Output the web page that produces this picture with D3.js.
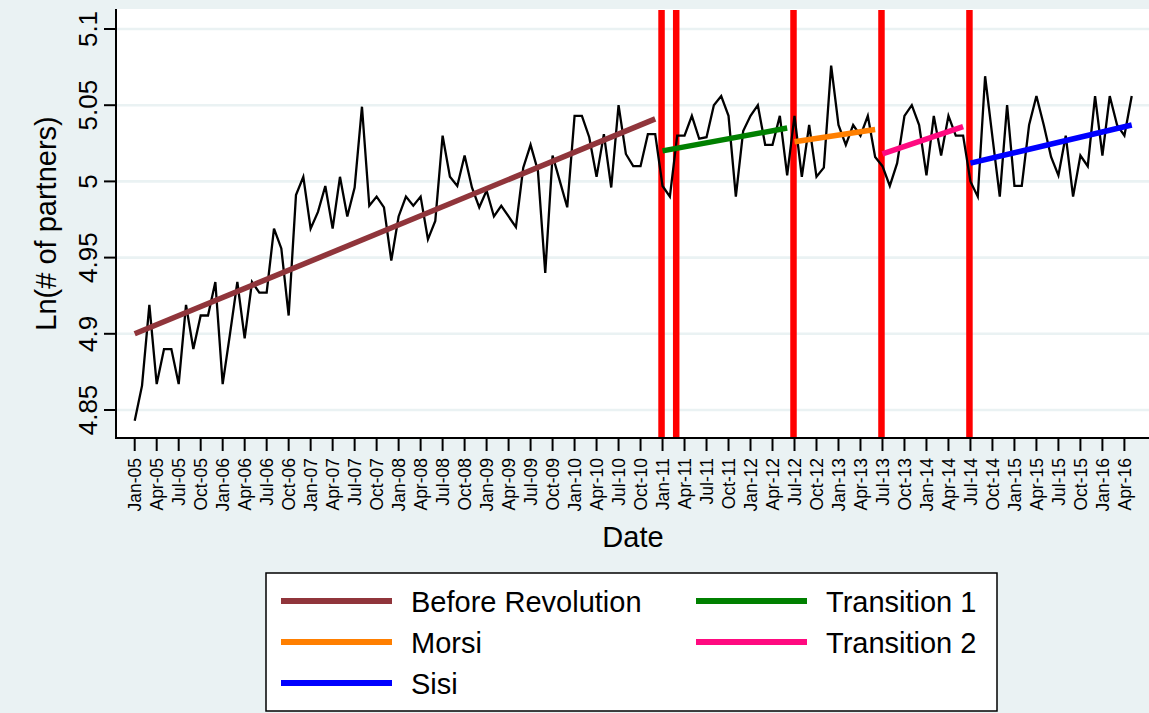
<!DOCTYPE html>
<html>
<head>
<meta charset="utf-8">
<script src="https://cdn.jsdelivr.net/npm/d3@7"></script>
<style>
  html, body { margin: 0; padding: 0; background: #EAF2F3; }
  svg { display: block; font-family: "Liberation Sans", Arial, sans-serif; }
</style>
</head>
<body>
<svg id="chart" width="1149" height="713"></svg>
<script>
// Monthly series, Jan-2005 .. May-2016 (index 0 = Jan-05)
const lnPartners = [
  4.843, 4.866, 4.919, 4.867, 4.890, 4.890, 4.867, 4.919, 4.890, 4.912, 4.912, 4.934,
  4.867, 4.900, 4.934, 4.897, 4.934, 4.927, 4.927, 4.969, 4.956, 4.912, 4.991, 5.003,
  4.969, 4.980, 4.997, 4.969, 5.003, 4.977, 4.996, 5.049, 4.984, 4.990, 4.983, 4.948,
  4.977, 4.990, 4.984, 4.990, 4.962, 4.974, 5.030, 5.003, 4.997, 5.017, 4.996, 4.983,
  4.994, 4.977, 4.984, 4.977, 4.970, 5.009, 5.024, 5.007, 4.940, 5.017, 5.000, 4.983,
  5.043, 5.043, 5.029, 5.003, 5.031, 4.996, 5.050, 5.018, 5.010, 5.010, 5.031, 5.031,
  4.997, 4.990, 5.030, 5.030, 5.043, 5.028, 5.029, 5.050, 5.056, 5.043, 4.990, 5.033,
  5.043, 5.050, 5.024, 5.024, 5.043, 5.004, 5.043, 5.003, 5.037, 5.003, 5.009, 5.076,
  5.037, 5.024, 5.037, 5.030, 5.043, 5.016, 5.010, 4.997, 5.012, 5.043, 5.050, 5.037,
  5.004, 5.043, 5.017, 5.043, 5.030, 5.030, 5.000, 4.990, 5.069, 5.029, 4.990, 5.050,
  4.997, 4.997, 5.037, 5.056, 5.037, 5.016, 5.004, 5.030, 4.990, 5.017, 5.010, 5.056,
  5.017, 5.056, 5.037, 5.030, 5.056
];

// Fitted trend per period: first/last month index and fitted values at those months
const periodNames  = ["Before Revolution", "Transition 1", "Morsi", "Transition 2", "Sisi"];
const periodStart  = [0, 72, 90, 102, 114];
const periodEnd    = [71, 89, 101, 113, 136];
const periodFitLo  = [4.900, 5.020, 5.026, 5.018, 5.012];
const periodFitHi  = [5.041, 5.035, 5.034, 5.036, 5.037];
const periodColors = ["#90353B", "#008000", "#FF7F00", "#FF0A80", "#0000FF"];

// Event markers (month index): Jan-11, Mar-11, Jul-12, Jul-13, Jul-14
const eventMonths = [72, 74, 90, 102, 114];

// Y axis ticks
const yTicks = [4.85, 4.9, 4.95, 5, 5.05, 5.1];

// X axis tick labels, every third month from Jan-05
const xTickLabels = [
  "Jan-05","Apr-05","Jul-05","Oct-05","Jan-06","Apr-06","Jul-06","Oct-06",
  "Jan-07","Apr-07","Jul-07","Oct-07","Jan-08","Apr-08","Jul-08","Oct-08",
  "Jan-09","Apr-09","Jul-09","Oct-09","Jan-10","Apr-10","Jul-10","Oct-10",
  "Jan-11","Apr-11","Jul-11","Oct-11","Jan-12","Apr-12","Jul-12","Oct-12",
  "Jan-13","Apr-13","Jul-13","Oct-13","Jan-14","Apr-14","Jul-14","Oct-14",
  "Jan-15","Apr-15","Jul-15","Oct-15","Jan-16","Apr-16"
];

const svg = d3.select("#chart");
const W = 1149, H = 713;
const plot = { left: 116, right: 1152, top: 9, bottom: 438 };

const x = d3.scaleLinear().domain([0, 135]).range([134.7, 1124.4]);
const y = d3.scaleLinear().domain([4.85, 5.1]).range([410, 29]);

// outer background
svg.append("rect").attr("width", W).attr("height", H).attr("fill", "#EAF2F3");

// plot region
svg.append("rect")
  .attr("x", plot.left).attr("y", plot.top)
  .attr("width", plot.right - plot.left).attr("height", plot.bottom - plot.top)
  .attr("fill", "#FFFFFF");

// horizontal grid
svg.append("g").selectAll("line").data(yTicks).join("line")
  .attr("x1", plot.left + 1).attr("x2", plot.right)
  .attr("y1", d => y(d)).attr("y2", d => y(d))
  .attr("stroke", "#EAF2F3").attr("stroke-width", 2.6);

// event markers
svg.append("g").selectAll("line").data(eventMonths).join("line")
  .attr("x1", d => x(d) - 1).attr("x2", d => x(d) - 1)
  .attr("y1", plot.top + 1).attr("y2", plot.bottom)
  .attr("stroke", "#FF0000").attr("stroke-width", 6.5);

// observed series
const line = d3.line().x((d, i) => x(i)).y(d => y(d));
svg.append("path")
  .datum(lnPartners)
  .attr("d", line)
  .attr("fill", "none")
  .attr("stroke", "#000000")
  .attr("stroke-width", 2.3)
  .attr("stroke-linejoin", "miter");

// fitted trend per period
const fits = periodNames.map((name, i) => ({
  name, color: periodColors[i],
  pts: [[periodStart[i], periodFitLo[i]], [periodEnd[i], periodFitHi[i]]]
}));
svg.append("g").selectAll("line").data(fits).join("line")
  .attr("x1", d => x(d.pts[0][0])).attr("y1", d => y(d.pts[0][1]))
  .attr("x2", d => x(d.pts[1][0])).attr("y2", d => y(d.pts[1][1]))
  .attr("stroke", d => d.color).attr("stroke-width", 5.5);

// y axis
const yAxisG = svg.append("g").attr("transform", `translate(${plot.left},0)`);
yAxisG.append("line")
  .attr("x1", 0).attr("x2", 0).attr("y1", plot.top).attr("y2", plot.bottom + 1)
  .attr("stroke", "#000").attr("stroke-width", 2);
yAxisG.selectAll("line.tick").data(yTicks).join("line").attr("class", "tick")
  .attr("x1", -12).attr("x2", 0)
  .attr("y1", d => y(d)).attr("y2", d => y(d))
  .attr("stroke", "#000").attr("stroke-width", 2);
yAxisG.selectAll("text").data(yTicks).join("text")
  .attr("transform", d => `translate(-19.5,${y(d)}) rotate(-90)`)
  .attr("text-anchor", "middle")
  .attr("font-size", 26)
  .attr("fill", "#000")
  .text(d => d3.format("")(d));

svg.append("text")
  .attr("transform", `translate(56,${(plot.top + plot.bottom) / 2}) rotate(-90)`)
  .attr("text-anchor", "middle")
  .attr("font-size", 29)
  .attr("fill", "#000")
  .text("Ln(# of partners)");

// x axis
const xAxisG = svg.append("g").attr("transform", `translate(0,${plot.bottom})`);
xAxisG.append("line")
  .attr("x1", plot.left - 1).attr("x2", plot.right).attr("y1", 0).attr("y2", 0)
  .attr("stroke", "#000").attr("stroke-width", 2);
xAxisG.selectAll("line.tick").data(xTickLabels).join("line").attr("class", "tick")
  .attr("x1", (d, i) => x(i * 3)).attr("x2", (d, i) => x(i * 3))
  .attr("y1", 0).attr("y2", 13)
  .attr("stroke", "#000").attr("stroke-width", 2);
xAxisG.selectAll("text").data(xTickLabels).join("text")
  .attr("transform", (d, i) => `translate(${x(i * 3)},20) rotate(-90)`)
  .attr("text-anchor", "end")
  .attr("dy", "0.36em")
  .attr("font-size", 17.5)
  .attr("fill", "#000")
  .text(d => d);

svg.append("text")
  .attr("x", 633).attr("y", 547)
  .attr("text-anchor", "middle")
  .attr("font-size", 29)
  .attr("fill", "#000")
  .text("Date");

// legend
const legend = svg.append("g");
legend.append("rect")
  .attr("x", 266).attr("y", 573).attr("width", 731).attr("height", 138)
  .attr("fill", "#FFFFFF").attr("stroke", "#000").attr("stroke-width", 1.5);

const legendOrder = [0, 1, 2, 3, 4]; // row-major, two columns
const colX = [281, 696];
const rowY = [601, 642, 683];
const items = legend.selectAll("g.item").data(legendOrder).join("g").attr("class", "item")
  .attr("transform", (d, k) => `translate(${colX[k % 2]},${rowY[Math.floor(k / 2)]})`);
items.append("line")
  .attr("x1", 0).attr("x2", 111).attr("y1", 0).attr("y2", 0)
  .attr("stroke", d => periodColors[d]).attr("stroke-width", 6);
items.append("text")
  .attr("x", 130).attr("y", 10.5)
  .attr("font-size", 29)
  .attr("fill", "#000")
  .text(d => periodNames[d]);
</script>
</body>
</html>
